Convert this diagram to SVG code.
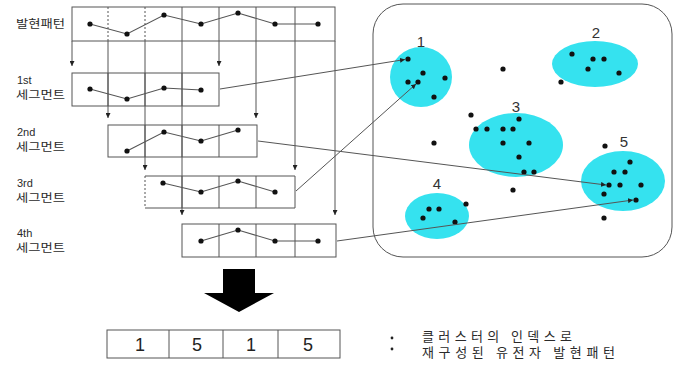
<svg xmlns="http://www.w3.org/2000/svg" width="677" height="365" viewBox="0 0 677 365">
  <style>
    .lbl { font-family: "Noto Sans CJK KR", "Liberation Sans", sans-serif; font-size: 11px; fill: #2a2a2a; }
    .lat { font-family: "Liberation Sans", Arial, sans-serif; font-size: 11px; fill: #2a2a2a; }
    .box { fill: #ffffff; stroke: #555555; stroke-width: 1; }
    .div { stroke: #555555; stroke-width: 1; }
    .dash { stroke: #555555; stroke-width: 1; stroke-dasharray: 2 2; }
    .trace { fill: none; stroke: #555555; stroke-width: 1.1; }
    .pt { fill: #111111; }
    .clu { fill: #35e2ef; }
    .num { font-family: "Liberation Sans", Arial, sans-serif; font-size: 15px; fill: #333333; text-anchor: middle; }
    .conn { fill: none; stroke: #555555; stroke-width: 1; }
    .res { font-family: "Liberation Sans", Arial, sans-serif; font-size: 18px; fill: #222222; text-anchor: middle; }
    .leg { font-family: "Noto Sans CJK KR", "Liberation Sans", sans-serif; font-size: 13px; fill: #2a2a2a; }
  </style>
  <defs>
    <marker id="tip" viewBox="0 0 8 8" refX="8" refY="4" markerWidth="5" markerHeight="5" orient="auto" markerUnits="userSpaceOnUse">
      <path d="M0,0 L8,4 L0,8 Z" fill="#222222"/>
    </marker>
  </defs>

  <!-- row labels -->
  <g id="labels">
    <text class="lbl" x="16" y="27.5" textLength="49" lengthAdjust="spacingAndGlyphs">발현패턴</text>
    <text class="lat" x="17" y="83.5">1st</text>
    <text class="lbl" x="16" y="98.5" textLength="49" lengthAdjust="spacingAndGlyphs">세그먼트</text>
    <text class="lat" x="17" y="135.5">2nd</text>
    <text class="lbl" x="16" y="150.5" textLength="49" lengthAdjust="spacingAndGlyphs">세그먼트</text>
    <text class="lat" x="17" y="186.5">3rd</text>
    <text class="lbl" x="16" y="201.5" textLength="49" lengthAdjust="spacingAndGlyphs">세그먼트</text>
    <text class="lat" x="17" y="236.5">4th</text>
    <text class="lbl" x="16" y="252" textLength="49" lengthAdjust="spacingAndGlyphs">세그먼트</text>
  </g>

  <!-- vertical split arrows -->
  <g id="connectors-split">
    <line class="conn" x1="72" y1="41" x2="72" y2="66" marker-end="url(#tip)"/>
    <line class="conn" x1="108" y1="41" x2="108" y2="118" marker-end="url(#tip)"/>
    <line class="conn" x1="145" y1="41" x2="145" y2="170" marker-end="url(#tip)"/>
    <line class="conn" x1="182" y1="41" x2="182" y2="215" marker-end="url(#tip)"/>
    <line class="conn" x1="219" y1="41" x2="219" y2="66" marker-end="url(#tip)"/>
    <line class="conn" x1="256" y1="41" x2="256" y2="118" marker-end="url(#tip)"/>
    <line class="conn" x1="295" y1="41" x2="295" y2="170" marker-end="url(#tip)"/>
    <line class="conn" x1="335" y1="41" x2="335" y2="215" marker-end="url(#tip)"/>
  </g>

  <!-- full expression pattern -->
  <g id="pattern">
    <rect class="box" x="72" y="7" width="263" height="34"/>
    <line class="dash" x1="108" y1="7" x2="108" y2="41"/>
    <line class="dash" x1="145" y1="7" x2="145" y2="41"/>
    <line class="div" x1="182" y1="7" x2="182" y2="41"/>
    <line class="div" x1="219" y1="7" x2="219" y2="41"/>
    <line class="div" x1="256" y1="7" x2="256" y2="41"/>
    <line class="div" x1="295" y1="7" x2="295" y2="41"/>
    <polyline class="trace" points="90,24 127,34 164,15 201,24 238,13 275,24 318,24"/>
    <circle class="pt" cx="90" cy="24" r="2.6"/>
    <circle class="pt" cx="127" cy="34" r="2.6"/>
    <circle class="pt" cx="164" cy="15" r="2.6"/>
    <circle class="pt" cx="201" cy="24" r="2.6"/>
    <circle class="pt" cx="238" cy="13" r="2.6"/>
    <circle class="pt" cx="275" cy="24" r="2.6"/>
    <circle class="pt" cx="318" cy="24" r="2.6"/>
  </g>

  <!-- segment 1 -->
  <g id="seg1">
    <rect class="box" x="72" y="73" width="147" height="33" fill-opacity="0"/>
    <line class="div" x1="108" y1="73" x2="108" y2="106"/>
    <line class="div" x1="145" y1="73" x2="145" y2="106"/>
    <line class="div" x1="182" y1="73" x2="182" y2="106"/>
    <polyline class="trace" points="90,89 127,99 164,88 201,90"/>
    <circle class="pt" cx="90" cy="89" r="2.6"/>
    <circle class="pt" cx="127" cy="99" r="2.6"/>
    <circle class="pt" cx="164" cy="88" r="2.6"/>
    <circle class="pt" cx="201" cy="90" r="2.6"/>
  </g>

  <!-- segment 2 -->
  <g id="seg2">
    <rect class="box" x="108" y="125" width="149" height="32" fill-opacity="0"/>
    <line class="div" x1="145" y1="125" x2="145" y2="157"/>
    <line class="div" x1="182" y1="125" x2="182" y2="157"/>
    <line class="div" x1="219" y1="125" x2="219" y2="157"/>
    <polyline class="trace" points="127,151 164,132 201,141 238,130"/>
    <circle class="pt" cx="127" cy="151" r="2.6"/>
    <circle class="pt" cx="164" cy="132" r="2.6"/>
    <circle class="pt" cx="201" cy="141" r="2.6"/>
    <circle class="pt" cx="238" cy="130" r="2.6"/>
  </g>

  <!-- segment 3 -->
  <g id="seg3">
    <line class="div" x1="145" y1="176" x2="295" y2="176"/>
    <line class="div" x1="145" y1="208" x2="295" y2="208"/>
    <line class="div" x1="295" y1="176" x2="295" y2="208"/>
    <line class="dash" x1="145" y1="176" x2="145" y2="208"/>
    <line class="div" x1="182" y1="176" x2="182" y2="208"/>
    <line class="div" x1="219" y1="176" x2="219" y2="208"/>
    <line class="div" x1="256" y1="176" x2="256" y2="208"/>
    <polyline class="trace" points="163,183 201,192 238,181 275,192"/>
    <circle class="pt" cx="163" cy="183" r="2.6"/>
    <circle class="pt" cx="201" cy="192" r="2.6"/>
    <circle class="pt" cx="238" cy="181" r="2.6"/>
    <circle class="pt" cx="275" cy="192" r="2.6"/>
  </g>

  <!-- segment 4 -->
  <g id="seg4">
    <rect class="box" x="182" y="224" width="154" height="33" fill-opacity="0"/>
    <line class="div" x1="219" y1="224" x2="219" y2="257"/>
    <line class="div" x1="256" y1="224" x2="256" y2="257"/>
    <line class="div" x1="295" y1="224" x2="295" y2="257"/>
    <polyline class="trace" points="201,241 238,230 275,241 318,241"/>
    <circle class="pt" cx="201" cy="241" r="2.6"/>
    <circle class="pt" cx="238" cy="230" r="2.6"/>
    <circle class="pt" cx="275" cy="241" r="2.6"/>
    <circle class="pt" cx="318" cy="241" r="2.6"/>
  </g>

  <!-- cluster space -->
  <g id="space">
    <rect x="373" y="4" width="299" height="253" rx="30" ry="30" fill="#ffffff" stroke="#555555" stroke-width="1"/>
  </g>

  <g id="cluster1">
    <ellipse class="clu" cx="421" cy="77" rx="31" ry="30"/>
    <text class="num" x="421" y="47">1</text>
    <circle class="pt" cx="408" cy="59" r="2.6"/>
    <circle class="pt" cx="423" cy="73" r="2.6"/>
    <circle class="pt" cx="408" cy="82" r="2.6"/>
    <circle class="pt" cx="418" cy="82" r="2.6"/>
    <circle class="pt" cx="445" cy="78" r="2.6"/>
    <circle class="pt" cx="434" cy="97" r="2.6"/>
  </g>

  <g id="cluster2">
    <ellipse class="clu" cx="595" cy="64" rx="43" ry="23"/>
    <text class="num" x="596" y="38">2</text>
    <circle class="pt" cx="572" cy="54" r="2.6"/>
    <circle class="pt" cx="593" cy="59" r="2.6"/>
    <circle class="pt" cx="604" cy="59" r="2.6"/>
    <circle class="pt" cx="588" cy="69" r="2.6"/>
    <circle class="pt" cx="619" cy="73" r="2.6"/>
  </g>

  <g id="cluster3">
    <ellipse class="clu" cx="516" cy="145" rx="47" ry="32"/>
    <text class="num" x="516" y="112">3</text>
    <circle class="pt" cx="519" cy="119" r="2.6"/>
    <circle class="pt" cx="476" cy="129" r="2.6"/>
    <circle class="pt" cx="487" cy="129" r="2.6"/>
    <circle class="pt" cx="503" cy="129" r="2.6"/>
    <circle class="pt" cx="513" cy="129" r="2.6"/>
    <circle class="pt" cx="503" cy="143" r="2.6"/>
    <circle class="pt" cx="529" cy="143" r="2.6"/>
    <circle class="pt" cx="519" cy="157" r="2.6"/>
    <circle class="pt" cx="524" cy="172" r="2.6"/>
    <circle class="pt" cx="534" cy="172" r="2.6"/>
  </g>

  <g id="cluster4">
    <ellipse class="clu" cx="437" cy="216" rx="32" ry="23"/>
    <text class="num" x="437" y="189">4</text>
    <circle class="pt" cx="429" cy="209" r="2.6"/>
    <circle class="pt" cx="439" cy="209" r="2.6"/>
    <circle class="pt" cx="423" cy="218" r="2.6"/>
    <circle class="pt" cx="455" cy="222" r="2.6"/>
  </g>

  <g id="cluster5">
    <ellipse class="clu" cx="623" cy="181" rx="42" ry="30"/>
    <text class="num" x="624" y="147">5</text>
    <circle class="pt" cx="630" cy="162" r="2.6"/>
    <circle class="pt" cx="614" cy="172" r="2.6"/>
    <circle class="pt" cx="625" cy="172" r="2.6"/>
    <circle class="pt" cx="609" cy="185" r="2.6"/>
    <circle class="pt" cx="620" cy="185" r="2.6"/>
    <circle class="pt" cx="641" cy="185" r="2.6"/>
    <circle class="pt" cx="604" cy="194" r="2.6"/>
    <circle class="pt" cx="636" cy="200" r="2.6"/>
  </g>

  <!-- unclustered points -->
  <g id="outliers">
    <circle class="pt" cx="503" cy="69" r="2.6"/>
    <circle class="pt" cx="561" cy="82" r="2.6"/>
    <circle class="pt" cx="471" cy="115" r="2.6"/>
    <circle class="pt" cx="434" cy="143" r="2.6"/>
    <circle class="pt" cx="513" cy="190" r="2.6"/>
    <circle class="pt" cx="466" cy="204" r="2.6"/>
    <circle class="pt" cx="605" cy="146" r="2.6"/>
    <circle class="pt" cx="604" cy="218" r="2.6"/>
  </g>

  <!-- segment-to-cluster assignments -->
  <g id="connectors">
    <line class="conn" x1="220" y1="89" x2="405" y2="59.5" marker-end="url(#tip)"/>
    <line class="conn" x1="296" y1="191" x2="416" y2="84" marker-end="url(#tip)"/>
    <line class="conn" x1="258" y1="141" x2="606" y2="185" marker-end="url(#tip)"/>
    <line class="conn" x1="337" y1="241" x2="633" y2="200" marker-end="url(#tip)"/>
  </g>

  <!-- big down arrow -->
  <g id="down-arrow">
    <path d="M223,269 L255,269 L255,293 L274,293 L239,312 L204,293 L223,293 Z" fill="#000000"/>
  </g>

  <!-- reconstructed pattern -->
  <g id="result">
    <rect class="box" x="107" y="330" width="233" height="28"/>
    <line class="div" x1="169" y1="330" x2="169" y2="358"/>
    <line class="div" x1="223" y1="330" x2="223" y2="358"/>
    <line class="div" x1="278" y1="330" x2="278" y2="358"/>
    <text class="res" x="140" y="351">1</text>
    <text class="res" x="197" y="351">5</text>
    <text class="res" x="251" y="351">1</text>
    <text class="res" x="308" y="351">5</text>
  </g>

  <g id="legend">
    <circle cx="392" cy="338" r="1.4" fill="#222222"/>
    <circle cx="392" cy="349" r="1.4" fill="#222222"/>
    <text class="leg"><tspan x="422" y="340.5" textLength="150" lengthAdjust="spacing">클러스터의 인덱스로</tspan><tspan x="422" y="357" textLength="193" lengthAdjust="spacing">재구성된 유전자 발현패턴</tspan></text>
  </g>
</svg>
